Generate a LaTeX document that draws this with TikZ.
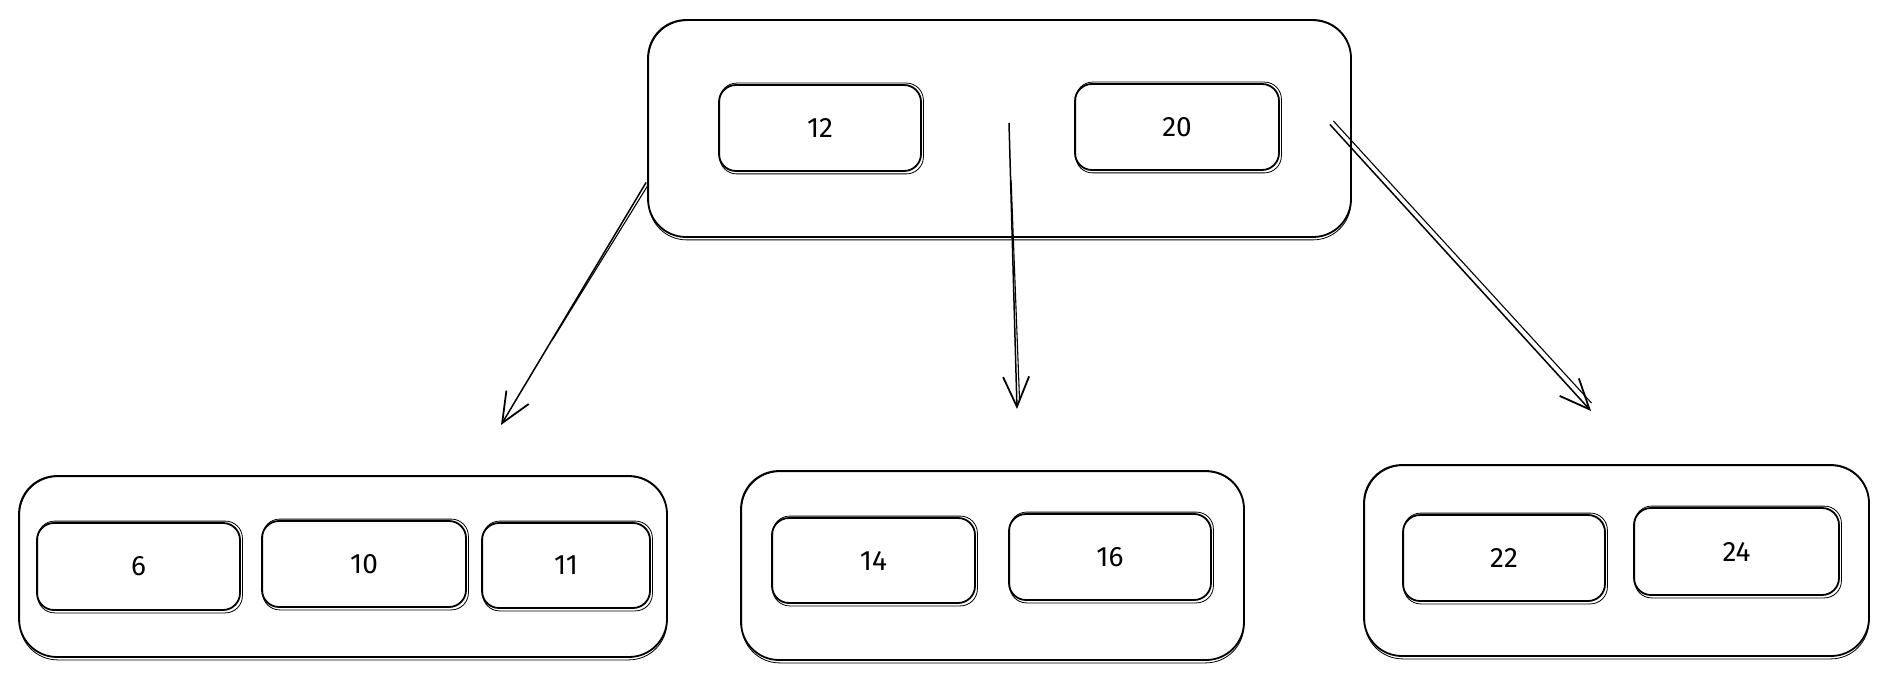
\documentclass[tikz,border=0pt]{standalone}
\usepackage{fontspec}
\setmainfont{Fira Sans}
\usetikzlibrary{arrows.meta,calc}
\tikzset{
  ink/.style={line width=1.8pt, black},
  outerbox/.style={ink, draw, rounded corners=38pt, inner sep=0pt},
  keybox/.style={ink, draw, rounded corners=17pt, inner sep=0pt, font=\fontsize{28}{32}\selectfont},
  outerghost/.style={line width=0.8pt, black, rounded corners=38pt},
  keyghost/.style={line width=0.8pt, black, rounded corners=17pt},
  link/.style={ink, line width=1.5pt, -{Straight Barb[length=30pt,width=26pt,line width=1.8pt]}},
  linkghost/.style={line width=1.1pt, black},
}
\begin{document}
\begin{tikzpicture}[x=1pt,y=-1pt]
\useasboundingbox (0,0) rectangle (1888,679);
% root
\node[outerbox, minimum width=703pt, minimum height=217pt] (root) at (999.5,128.5) {};
\node[keybox, minimum width=202pt, minimum height=86pt] (k12) at (820,128) {12};
\node[keybox, minimum width=204pt, minimum height=86pt] (k20) at (1177,127) {20};
% leaves
\node[outerbox, minimum width=648pt, minimum height=181pt] (leafA) at (343,566.5) {};
\node[keybox, minimum width=203pt, minimum height=87pt] (k6) at (138.5,566.5) {6};
\node[keybox, minimum width=204pt, minimum height=86pt] (k10) at (364,564) {10};
\node[keybox, minimum width=168pt, minimum height=85pt] (k11) at (566,565.5) {11};

\node[outerbox, minimum width=503pt, minimum height=189pt] (leafB) at (992.5,565.5) {};
\node[keybox, minimum width=203pt, minimum height=85pt] (k14) at (873.5,560.5) {14};
\node[keybox, minimum width=202pt, minimum height=86pt] (k16) at (1110,557) {16};

\node[outerbox, minimum width=505pt, minimum height=191pt] (leafC) at (1616.5,560.5) {};
\node[keybox, minimum width=202pt, minimum height=86pt] (k22) at (1504,558) {22};
\node[keybox, minimum width=205pt, minimum height=87pt] (k24) at (1736.5,551.5) {24};

% sketchy second strokes
\foreach \n in {root,leafA,leafB,leafC}
  \draw[outerghost] ([shift={(1.5,1.5)}]\n.north west) rectangle ([shift={(-1,2)}]\n.south east);
\foreach \n in {k12,k20,k6,k10,k11,k14,k16,k22,k24}
  \draw[keyghost] ([shift={(1.5,-1)}]\n.north west) rectangle ([shift={(1.5,2)}]\n.south east);

% arrows
\coordinate (lA) at ($(root.west)+(-1,54)$);
\coordinate (lB) at (501,425);
\coordinate (mA) at (1009,123);
\coordinate (mB) at (1017,409);
\coordinate (rA) at ($(root.east)+(-22,-4)$);
\coordinate (rB) at (1591,411);

\draw[link] (lA) -- (lB);
\draw[linkghost] ($(lA)+(2.6,1.5)$) -- ($(lA)!0.65!(lB)+(0.3,0.2)$);
\draw[link] (mA) -- (mB);
\draw[linkghost] ($(mA)!0.2!(mB)+(0.5,0)$) -- ($(mB)+(2.5,-10)$);
\draw[link] (rA) -- (rB);
\draw[linkghost] ($(rA)+(3.5,-3.5)$) -- ($(rB)+(0.5,-8)$);
\end{tikzpicture}
\end{document}
